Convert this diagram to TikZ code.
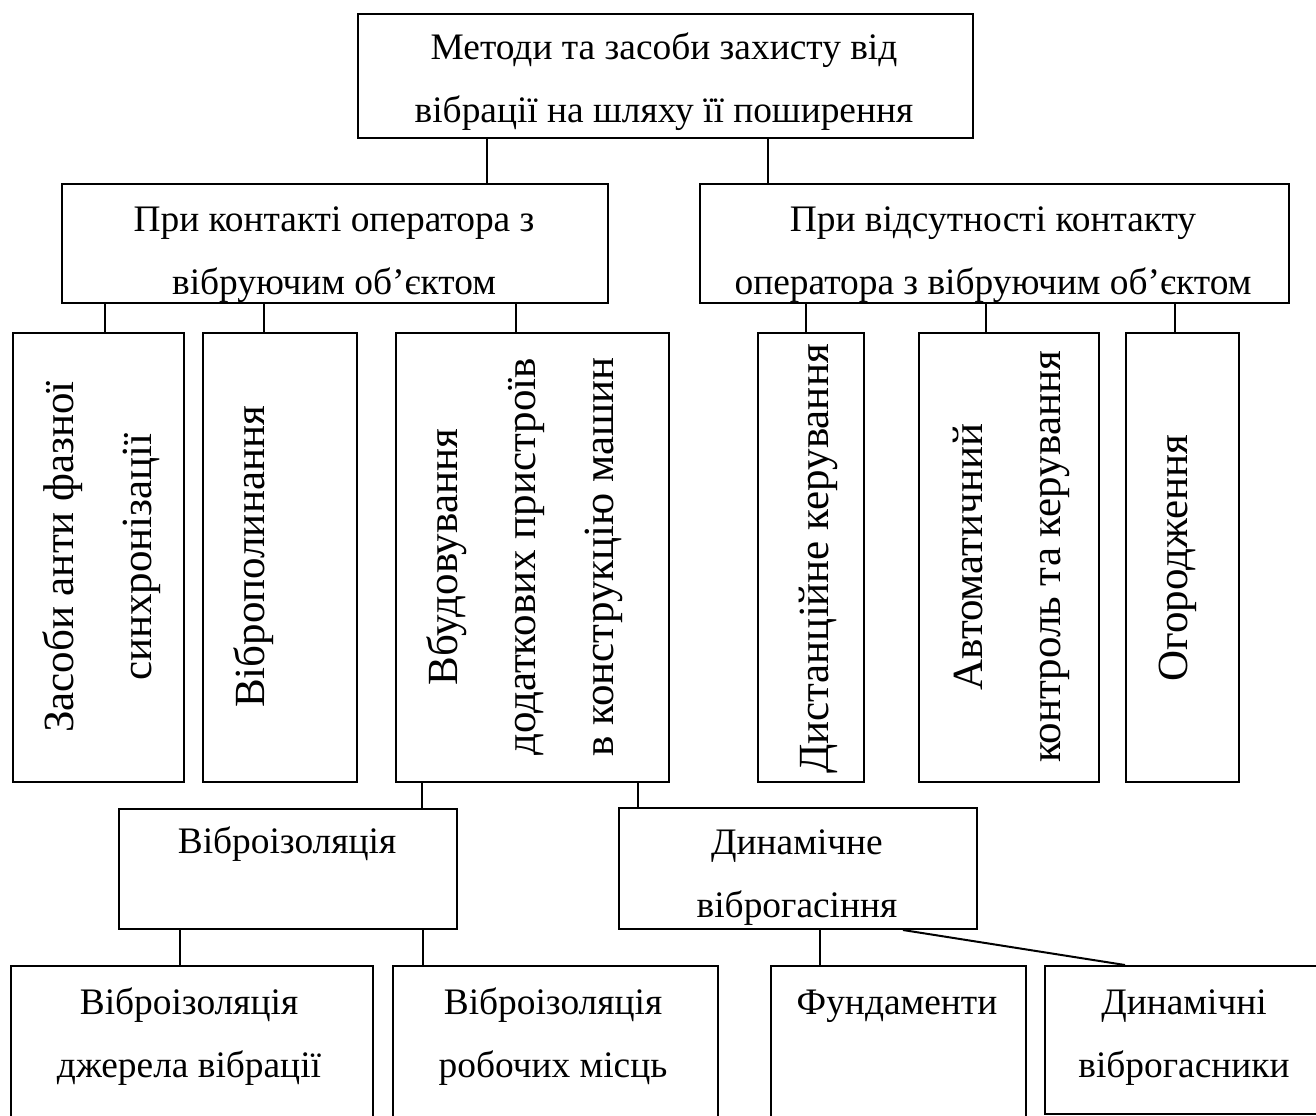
\documentclass[tikz,border=0pt]{standalone}
\usepackage{fontspec}
\setmainfont{Liberation Serif}
\tikzset{
  blok/.style={draw, line width=1pt, rectangle, inner sep=0pt, anchor=north west},
  htxt/.style={font=\fontsize{18.7pt}{31.5pt}\selectfont, align=center, anchor=base, inner sep=0pt},
  vtxt/.style={font=\fontsize{21.5pt}{39pt}\selectfont, align=center, anchor=base, rotate=90, inner sep=0pt},
  link/.style={line width=1pt}
}

\begin{document}
\begin{tikzpicture}[x=0.5pt,y=-0.5pt]
\useasboundingbox (0,0) rectangle (1316,1115);
% upper levels
\node[blok, minimum width=307.5pt, minimum height=62pt] (top) at (357,13) {};
\node[blok, minimum width=273pt, minimum height=59.5pt] (contact) at (61,183) {};
\node[blok, minimum width=294.5pt, minimum height=59.5pt] (nocontact) at (699,183) {};
% vertical boxes
\node[blok, minimum width=85.5pt, minimum height=224.5pt] (antiphase) at (12,332) {};
\node[blok, minimum width=77pt, minimum height=224.5pt] (absorb) at (202,332) {};
\node[blok, minimum width=136.5pt, minimum height=224.5pt] (builtin) at (395,332) {};
\node[blok, minimum width=53pt, minimum height=224.5pt] (remote) at (757,332) {};
\node[blok, minimum width=90pt, minimum height=224.5pt] (autoctl) at (918,332) {};
\node[blok, minimum width=56.5pt, minimum height=224.5pt] (fence) at (1125,332) {};
% lower levels
\node[blok, minimum width=169pt, minimum height=60pt] (isol) at (118,808) {};
\node[blok, minimum width=179pt, minimum height=60.5pt] (dyn) at (618,807) {};
\node[blok, minimum width=181pt, minimum height=80pt] (isolsrc) at (10,965) {};
\node[blok, minimum width=162.5pt, minimum height=80pt] (isolwork) at (392,965) {};
\node[blok, minimum width=127.5pt, minimum height=80pt] (found) at (770,965) {};
\node[blok, minimum width=150pt, minimum height=74pt] (dynabs) at (1044,965) {};

% texts
\node[htxt] (toptext) at (664,122) {Методи та засоби захисту від\\вібрації на шляху її поширення};
\begin{scope}
  \clip (contact.north west) rectangle (contact.south east);
  \node[htxt] (contacttext) at (334,294) {При контакті оператора з\\вібруючим об’єктом};
\end{scope}
\begin{scope}
  \clip (nocontact.north west) rectangle (nocontact.south east);
  \node[htxt] (nocontacttext) at (993,294) {При відсутності контакту\\оператора з вібруючим об’єктом};
\end{scope}
\node[vtxt] (antiphasetext) at (151,557) {Засоби анти фазної\\синхронізації};
\node[vtxt] (absorbtext) at (264,557) {Віброполинання};
\node[vtxt] (builtintext) at (613,557) {Вбудовування\\додаткових пристроїв\\в конструкцію машин};
\node[vtxt] (remotetext) at (828,559) {Дистанційне керування};
\node[vtxt] (autoctltext) at (1060,557) {Автоматичний\\контроль та керування};
\node[vtxt] (fencetext) at (1187,558) {Огородження};
\node[htxt] (isoltext) at (287,853) {Віброізоляція};
\node[htxt] (dyntext) at (797,917) {Динамічне\\віброгасіння};
\node[htxt] (isolsrctext) at (189,1077) {Віброізоляція\\джерела вібрації};
\node[htxt] (isolworktext) at (553,1077) {Віброізоляція\\робочих місць};
\node[htxt] (foundtext) at (897,1014) {Фундаменти};
\node[htxt] (dynabstext) at (1184,1077) {Динамічні\\віброгасники};

% connectors
\draw[link] ([xshift=65pt]top.south west) -- ([xshift=213pt]contact.north west);
\draw[link] ([xshift=205.5pt]top.south west) -- ([xshift=34.5pt]nocontact.north west);
\draw[link] ([xshift=22pt]contact.south west) -- ([xshift=46.5pt]antiphase.north west);
\draw[link] ([xshift=101.5pt]contact.south west) -- ([xshift=31pt]absorb.north west);
\draw[link] ([xshift=227.5pt]contact.south west) -- ([xshift=60.5pt]builtin.north west);
\draw[link] ([xshift=53.5pt]nocontact.south west) -- ([xshift=24.5pt]remote.north west);
\draw[link] ([xshift=143.5pt]nocontact.south west) -- ([xshift=34pt]autoctl.north west);
\draw[link] ([xshift=238pt]nocontact.south west) -- ([xshift=25pt]fence.north west);
\draw[link] ([xshift=13.5pt]builtin.south west) -- ([xshift=152pt]isol.north west);
\draw[link] ([xshift=121.5pt]builtin.south west) -- ([xshift=10pt]dyn.north west);
\draw[link] ([xshift=31pt]isol.south west) -- ([xshift=85pt]isolsrc.north west);
\draw[link] ([xshift=152.5pt]isol.south west) -- ([xshift=15.5pt]isolwork.north west);
\draw[link] ([xshift=101pt]dyn.south west) -- ([xshift=25pt]found.north west);
\draw[link] ([xshift=142.5pt]dyn.south west) -- ([xshift=40.5pt]dynabs.north west);
\end{tikzpicture}
\end{document}
